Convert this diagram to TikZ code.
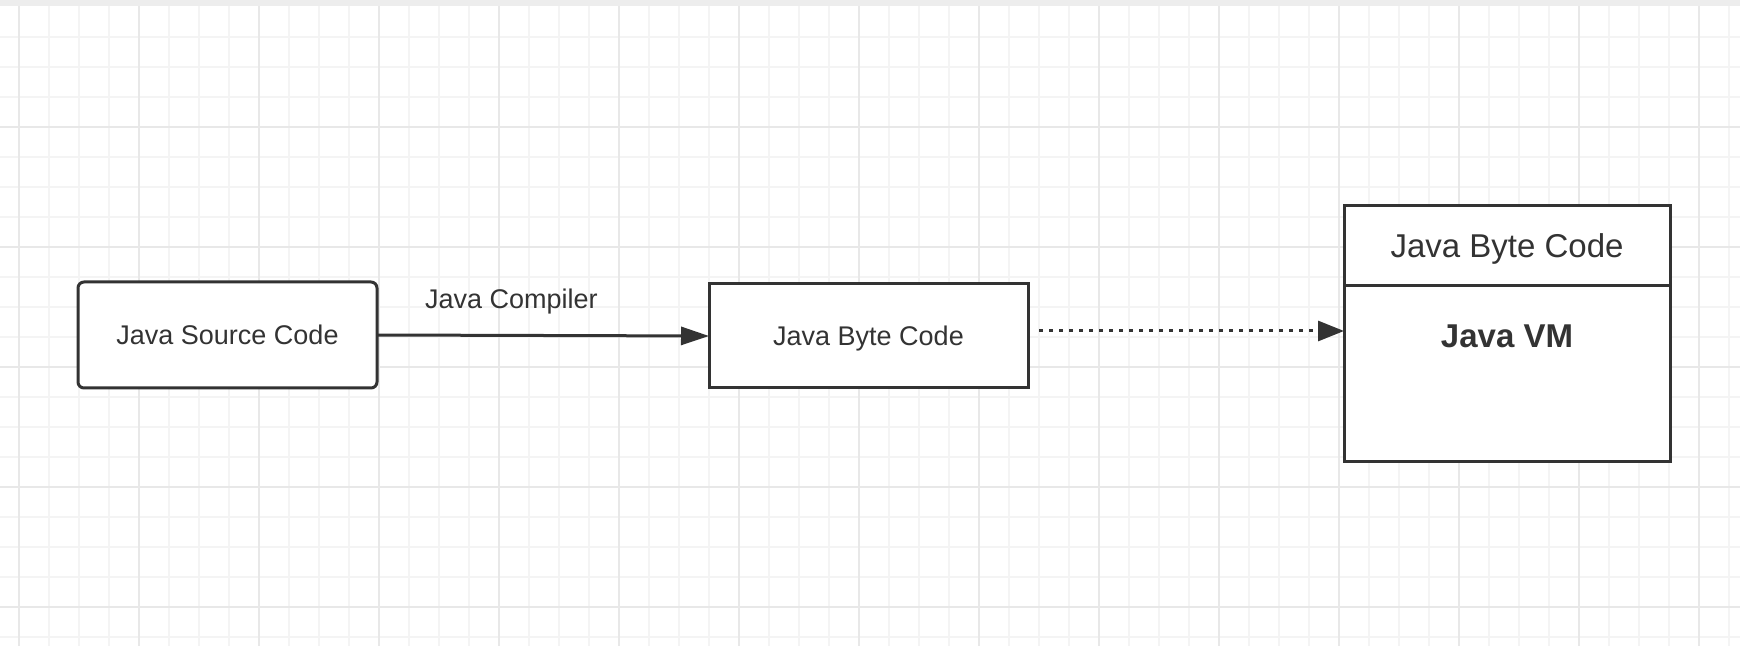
\documentclass[tikz,border=0pt]{standalone}
\usepackage{fontspec}
\setmainfont{Liberation Sans}
\usetikzlibrary{arrows.meta}

\begin{document}
\begin{tikzpicture}[x=0.5pt, y=-0.5pt,
        box/.style={draw=Lcolor, line width=1.5pt, fill=white, text=Lcolor, inner sep=0pt, outer sep=0pt, text depth=0pt},
        flow/.style={draw=Lcolor, line width=1.5pt, -{Triangle[length=14pt, width=9pt]}},
        dots/.style={draw=Lcolor, line width=1.5pt, dash pattern=on 2pt off 3pt, -{Triangle[length=13pt, width=10pt]}}]
    \definecolor{Lcolor}{RGB}{51, 51, 51}
    \definecolor{Mcolor}{RGB}{244, 244, 244}
    \definecolor{Jcolor}{RGB}{232, 232, 232}
    \def\boxfont{\fontsize{13.5pt}{16pt}\selectfont}
    \def\headfont{\fontsize{16.5pt}{19pt}\selectfont}
    \useasboundingbox (0, 0) rectangle (1740, 646);
    % grid paper
    \fill[white] (0, 0) rectangle (1740, 646);
    \fill[Jcolor!80] (0, 0) rectangle (1740, 6.5);
    \foreach \gx in {19, 49, ..., 1729} \draw[Mcolor, line width=1pt] (\gx, 6.5) -- (\gx, 646);
    \foreach \gy in {37, 67, ..., 637} \draw[Mcolor, line width=1pt] (0, \gy) -- (1740, \gy);
    \foreach \gx in {19, 139, ..., 1699} \draw[Jcolor, line width=1pt] (\gx, 6.5) -- (\gx, 646);
    \foreach \gy in {127, 247, ..., 607} \draw[Jcolor, line width=1pt] (0, \gy) -- (1740, \gy);
    % boxes
    \node[box, rounded corners=3pt, minimum width=149.5pt, minimum height=53pt, font=\boxfont] (src) at (227.5, 335) {Java Source Code};
    \node[box, minimum width=159.5pt, minimum height=52pt, font=\boxfont] (mid) at (868.5, 336) {Java Byte Code};
    \node[box, minimum width=163pt, minimum height=40pt, font=\headfont] (vmhead) at (1507, 246) {Java Byte Code};
    \node[box, minimum width=163pt, minimum height=88pt, anchor=north] (vmbody) at (vmhead.south) {};
    \node[text=Lcolor, font=\headfont\bfseries] (vmtitle) at (1507, 336) {Java VM};
    % arrows
    \draw[flow] (src.east) -- (mid.west);
    \node[text=Lcolor, font=\boxfont] (compiler) at (511.5, 302) {Java Compiler};
    \coordinate (dotstart) at ([shift={(11, -5)}]mid.east);
    \draw[dots] (dotstart) -- (dotstart -| vmbody.west);
\end{tikzpicture}
\end{document}
